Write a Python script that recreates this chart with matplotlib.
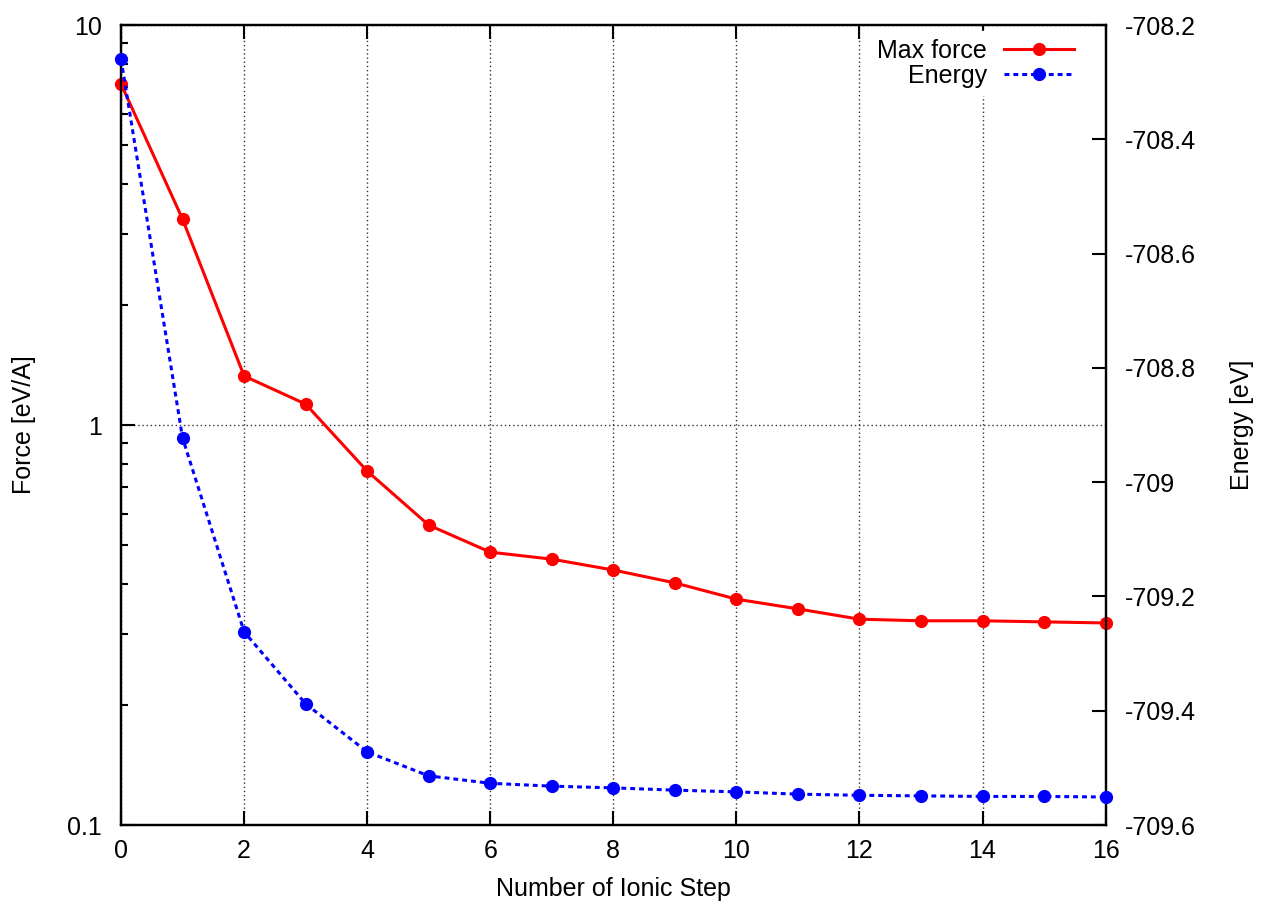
import matplotlib
matplotlib.use('Agg')
import matplotlib.pyplot as plt
import numpy as np

plt.rcParams['font.family'] = ['Liberation Sans', 'DejaVu Sans']

# data
steps = list(range(17))
max_force = [7.12, 3.27, 1.326, 1.128, 0.767, 0.562, 0.481, 0.462, 0.434, 0.403,
             0.367, 0.347, 0.327, 0.324, 0.324, 0.322, 0.320]
energy = [-708.26, -708.923, -709.262, -709.388, -709.472, -709.514, -709.527,
          -709.532, -709.535, -709.539, -709.542, -709.546, -709.548, -709.549,
          -709.550, -709.550, -709.551]

x_ticks = [0, 2, 4, 6, 8, 10, 12, 14, 16]
e_ticks = [-709.6, -709.4, -709.2, -709.0, -708.8, -708.6, -708.4, -708.2]
e_ticklabels = ['-709.6', '-709.4', '-709.2', '-709', '-708.8', '-708.6', '-708.4', '-708.2']

fs = 18
fig = plt.figure(figsize=(12.65, 9.07), dpi=100)
ax = fig.add_subplot(1, 1, 1)
fig.subplots_adjust(left=0.0957, right=0.874, top=0.9724, bottom=0.0904)
ax2 = ax.twinx()

l1, = ax.plot(steps, max_force, color='red', lw=2.2, marker='o', ms=8.5,
              label='Max force', clip_on=False, zorder=5)
l2, = ax2.plot(steps, energy, color='blue', lw=2.2, marker='o', ms=8.5,
               linestyle=(0, (1.6, 1.3)), label='Energy', clip_on=False, zorder=4)

ax.set_yscale('log')
ax.set_ylim(0.1, 10)
ax.set_xlim(0, 16)
ax.set_xticks(x_ticks)
ax.set_yticks([0.1, 1, 10])
ax.set_yticklabels(['0.1', '1', '10'])
ax.grid(True, which='major', color='#333333', linestyle=(0, (1, 2)), lw=1.0)
ax.tick_params(axis='both', which='major', direction='in', length=10, width=1.5,
               labelsize=fs, top=True)
ax.tick_params(axis='y', which='major', pad=14)
ax.tick_params(axis='x', which='major', pad=10)
ax.tick_params(axis='y', which='minor', direction='in', length=5, width=1.5)
ax.tick_params(axis='x', which='minor', bottom=False, top=False)

ax2.set_ylim(-709.6, -708.2)
ax2.set_yticks(e_ticks)
ax2.set_yticklabels(e_ticklabels)
ax2.tick_params(axis='y', direction='in', length=10, width=1.5, labelsize=fs, pad=14)

for a in (ax, ax2):
    for s in a.spines.values():
        s.set_linewidth(1.6)

ax.set_xlabel('Number of Ionic Step', fontsize=fs, labelpad=10)
ax.set_ylabel('Force [eV/A]', fontsize=fs, labelpad=22)
ax2.set_ylabel('Energy [eV]', fontsize=fs, labelpad=24)

leg = ax2.legend(handles=[l1, l2], loc='upper right', bbox_to_anchor=(0.976, 0.9925),
                 markerfirst=False, fontsize=fs, frameon=True, handlelength=2.8,
                 handletextpad=0.7, labelspacing=0.05, borderaxespad=0.0,
                 borderpad=0.3, fancybox=False)
leg.get_frame().set_edgecolor('white')
leg.get_frame().set_facecolor('white')
leg.get_frame().set_alpha(1.0)

fig.savefig('out.png', dpi=100)
